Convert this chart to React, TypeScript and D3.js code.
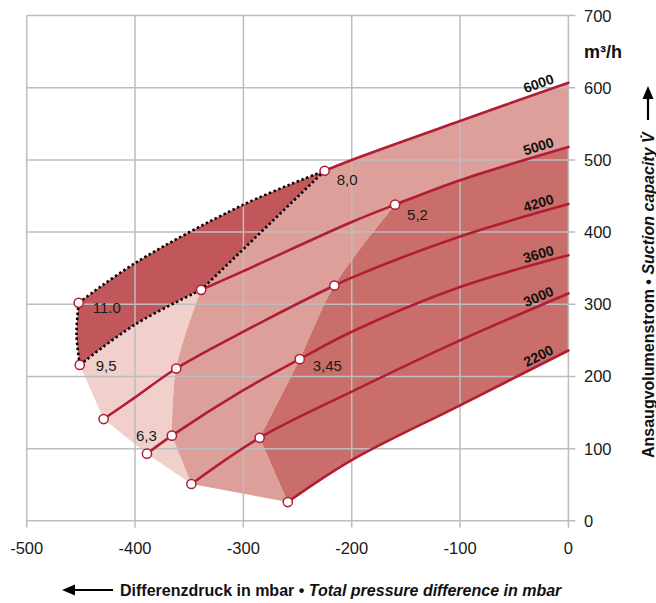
import React from 'react';
import * as d3 from 'd3';

type P = [number, number];

const W = 656;
const H = 603;

const xTicks = [-500, -400, -300, -200, -100, 0];
const yTicks = [0, 100, 200, 300, 400, 500, 600, 700];

const speedLabels = ['6000', '5000', '4200', '3600', '3000', '2200'];

// characteristic curves [mbar, m³/h]
const curve6000: P[] = [[-452, 302], [-400, 357], [-300, 438], [-225, 485], [-200, 500], [-100, 554], [0, 607]];
const curve5000: P[] = [[-451, 216], [-400, 272], [-339, 320], [-300, 346], [-200, 414], [-160, 438], [-100, 472], [0, 518]];
const curve4200: P[] = [[-429, 141], [-400, 171], [-362, 211], [-300, 262], [-216, 326], [-200, 337], [-100, 394], [0, 439]];
const curve3600: P[] = [[-389, 93], [-366, 118], [-300, 181], [-248, 224], [-200, 262], [-100, 324], [0, 368]];
const curve3000: P[] = [[-348, 51], [-285, 115], [-200, 179], [-100, 250], [0, 315]];
const curve2200: P[] = [[-259, 26], [-200, 84], [-100, 160], [0, 236]];

// power boundaries
const line80: P[] = [[-225, 485], [-339, 320]];
const line63Curve: P[] = [[-339, 320], [-362, 211], [-366, 118]];
const line63Tail: P[] = [[-366, 118], [-348, 51]];
const line345Curve: P[] = [[-160, 438], [-216, 326], [-248, 224], [-285, 115]];
const line345Tail: P[] = [[-285, 115], [-259, 26]];
const envelope: P[] = [[-451, 216], [-429, 141], [-389, 93], [-348, 51], [-259, 26]];
const leftEdge: P[] = [[-451, 216], [-454, 258], [-452, 302]];

const markers: P[] = [
  [-452, 302], [-451, 216], [-339, 320], [-225, 485], [-160, 438], [-216, 326],
  [-362, 211], [-429, 141], [-366, 118], [-389, 93], [-248, 224], [-285, 115],
  [-348, 51], [-259, 26],
];

const pointLabels = ['11.0', '9,5', '8,0', '5,2', '3,45', '6,3'];
const pointLabelAt: P[] = [[-452, 302], [-451, 216], [-225, 485], [-160, 438], [-248, 224], [-366, 118]];
// layout offsets (px) for the point labels
const pointLabelOffset = [
  { dx: 14, dy: 10, anchor: 'start' },
  { dx: 16, dy: 6, anchor: 'start' },
  { dx: 12, dy: 14, anchor: 'start' },
  { dx: 12, dy: 15, anchor: 'start' },
  { dx: 13, dy: 12, anchor: 'start' },
  { dx: -15, dy: 5, anchor: 'end' },
];

const COL = {
  lightest: '#f1d0cb',
  medium: '#dc9f9a',
  darker: '#c96e6b',
  darkest: '#c1575b',
  curve: '#b01d35',
  grid: '#bdbdbd',
  text: '#1a1a1a',
};

const FONT = "'Liberation Sans', Arial, Helvetica, sans-serif";

const x = d3.scaleLinear().domain([-500, 0]).range([26.7, 568.4]);
const y = d3.scaleLinear().domain([0, 700]).range([520.8, 15.6]);

const cr = d3.curveCatmullRom.alpha(0.5);
const seg = (pts: P[], curve: any = cr): string =>
  (d3.line<P>().x((d) => x(d[0])).y((d) => y(d[1])).curve(curve)(pts) as string);
const lin = (pts: P[]) => seg(pts, d3.curveLinear);
const rev = (a: P[]) => a.slice().reverse();
const join = (...segs: string[]) =>
  segs.map((s, i) => (i === 0 ? s : 'L' + s.slice(1))).join('') + 'Z';

export default function App() {
  const c6 = curve6000;
  const c5 = curve5000;

  const darkestPath = join(
    seg(c6.slice(0, 4)),
    lin(line80),
    seg(rev(c5.slice(0, 3))),
    seg(leftEdge)
  );
  const lightestPath = join(
    lin(envelope.slice(0, 4)),
    lin(rev(line63Tail)),
    seg(rev(line63Curve)),
    seg(rev(c5.slice(0, 3)))
  );
  const mediumPath = join(
    seg(c6.slice(3)),
    lin([[0, 607], [0, 518]]),
    seg(rev(c5.slice(5))),
    seg(line345Curve),
    lin(line345Tail),
    lin([[-259, 26], [-348, 51]]),
    lin(rev(line63Tail)),
    seg(rev(line63Curve)),
    lin(rev(line80))
  );
  const darkerPath = join(
    seg(c5.slice(5)),
    lin([[0, 518], [0, 236]]),
    seg(rev(curve2200)),
    lin(rev(line345Tail)),
    seg(rev(line345Curve))
  );

  const solidCurves: P[][] = [c6.slice(3), c5.slice(2), curve4200, curve3600, curve3000, curve2200];
  const allCurves: P[][] = [curve6000, curve5000, curve4200, curve3600, curve3000, curve2200];
  const dottedPaths = [seg(c6.slice(0, 4)), seg(c5.slice(0, 3)), lin(line80), seg(leftEdge)];

  const x0 = x(-500);
  const x1 = x(0);
  const yTop = y(700);
  const yBot = y(0);

  return (
    <svg width={W} height={H} style={{ position: 'absolute', left: 0, top: 0, background: '#fff' }} fontFamily={FONT}>
      <rect x={0} y={0} width={W} height={H} fill="#fff" />
      {/* fills */}
      <path d={lightestPath} fill={COL.lightest} />
      <path d={mediumPath} fill={COL.medium} />
      <path d={darkerPath} fill={COL.darker} />
      <path d={darkestPath} fill={COL.darkest} />

      {/* grid */}
      {yTicks.map((t) => (
        <line key={'h' + t} x1={x0} x2={x1 + 7} y1={y(t)} y2={y(t)} stroke={COL.grid} strokeWidth={1.5} />
      ))}
      {xTicks.map((t) => (
        <line key={'v' + t} x1={x(t)} x2={x(t)} y1={yTop} y2={yBot + 7} stroke={COL.grid} strokeWidth={1.5} />
      ))}

      {/* curves */}
      {solidCurves.map((c, i) => (
        <path key={'c' + i} d={seg(c)} fill="none" stroke={COL.curve} strokeWidth={2.6} strokeLinecap="round" />
      ))}
      {dottedPaths.map((d, i) => (
        <path key={'d' + i} d={d} fill="none" stroke="#000" strokeWidth={2.6} strokeDasharray="2.4 2.6" />
      ))}

      {/* markers */}
      {markers.map((m, i) => (
        <circle key={'m' + i} cx={x(m[0])} cy={y(m[1])} r={4.6} fill="#fff" stroke={COL.curve} strokeWidth={1.5} />
      ))}

      {/* point labels */}
      {pointLabels.map((l, i) => (
        <text
          key={'pl' + i}
          x={x(pointLabelAt[i][0]) + pointLabelOffset[i].dx}
          y={y(pointLabelAt[i][1]) + pointLabelOffset[i].dy}
          fontSize={15}
          fill={COL.text}
          textAnchor={pointLabelOffset[i].anchor as any}
        >
          {l}
        </text>
      ))}

      {/* speed labels */}
      {allCurves.map((c, i) => {
        const a = c[c.length - 2];
        const b = c[c.length - 1];
        const sx = x(b[0]) - x(a[0]);
        const sy = y(b[1]) - y(a[1]);
        const slope = sy / sx;
        const ang = (Math.atan(slope) * 180) / Math.PI;
        const px = x(b[0]) - 30;
        const py = y(b[1]) - 30 * slope - 10;
        return (
          <text
            key={'sl' + i}
            transform={`translate(${px},${py}) rotate(${ang})`}
            fontSize={14}
            fontWeight="bold"
            textAnchor="middle"
            dy="0.36em"
            fill="#111"
          >
            {speedLabels[i]}
          </text>
        );
      })}

      {/* x tick labels */}
      {xTicks.map((t) => (
        <text key={'xl' + t} x={x(t)} y={554} fontSize={16.5} textAnchor="middle" fill={COL.text}>
          {t}
        </text>
      ))}
      {/* y tick labels */}
      {yTicks.map((t) => (
        <text key={'yl' + t} x={584} y={y(t)} dy="0.36em" fontSize={16.5} fill={COL.text}>
          {t}
        </text>
      ))}
      <text x={584} y={58} fontSize={18} fontWeight="bold" fill="#111">
        m³/h
      </text>

      {/* bottom axis title */}
      <g>
        <line x1={72} x2={113} y1={590} y2={590} stroke="#000" strokeWidth={2.2} />
        <path d="M62,590 L75,584.5 L75,595.5 Z" fill="#000" />
        <text x={120} y={595.5} fontSize={16} fontWeight="bold" fill="#111">
          Differenzdruck in mbar •{' '}
          <tspan fontStyle="italic">Total pressure difference in mbar</tspan>
        </text>
      </g>

      {/* right axis title */}
      <g transform="translate(654,458) rotate(-90)">
        <text x={0} y={0} fontSize={16} fontWeight="bold" fill="#111">
          Ansaugvolumenstrom •{' '}
          <tspan fontStyle="italic">Suction capacity V̇</tspan>
        </text>
        <line x1={338} x2={362} y1={-6} y2={-6} stroke="#000" strokeWidth={2.2} />
        <path d="M372,-6 L359,-11.5 L359,-0.5 Z" fill="#000" />
      </g>
    </svg>
  );
}
